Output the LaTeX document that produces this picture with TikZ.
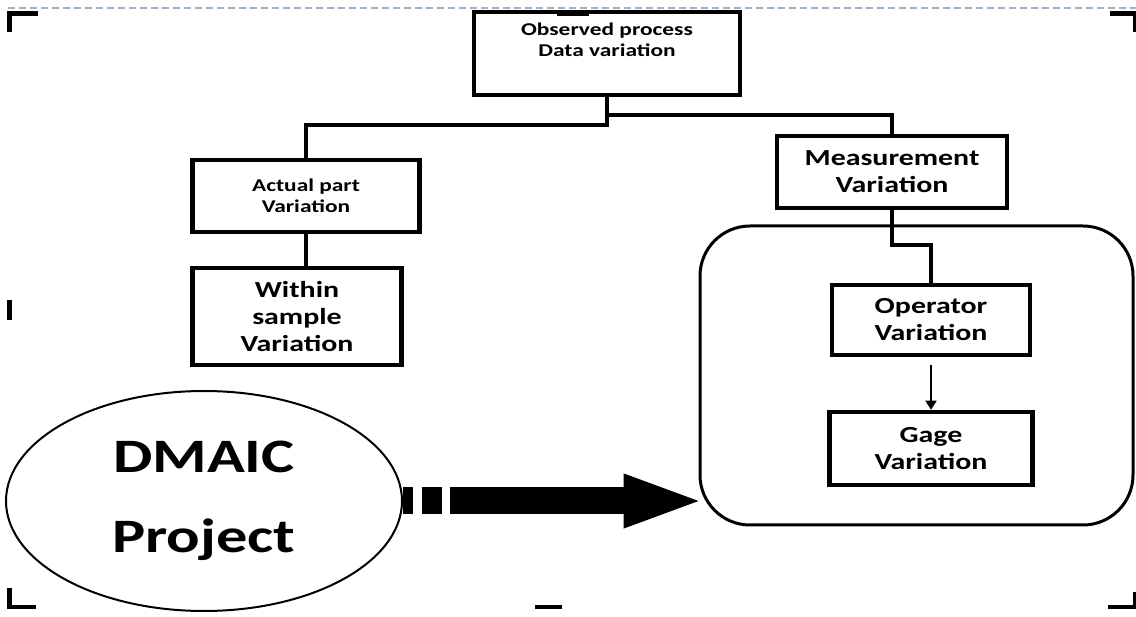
\documentclass[tikz,border=0pt]{standalone}
\usepackage{fontspec}
\setmainfont{Carlito}[FakeStretch=1.3]
\usetikzlibrary{arrows.meta,shapes.geometric}
\definecolor{rulegray}{RGB}{160,178,200}

\begin{document}
\begin{tikzpicture}[x=1pt,y=-1pt,
  box/.style={draw,line width=4.5pt,align=center,inner sep=0pt},
  smalltxt/.style={font=\bfseries\fontsize{18}{21}\selectfont},
  bigtxt/.style={font=\bfseries\fontsize{23}{27}\selectfont},
  link/.style={line width=4pt},
  cropmark/.style={line width=4.5pt},
  bigarrow/.style={line width=27pt,dash pattern=on 10pt off 9pt on 20pt off 8pt on 1000pt off 0pt,
    -{Triangle[length=75pt,width=55pt,line width=1pt]}}]

\useasboundingbox (0,0) rectangle (1136,617);

\draw[rulegray,line width=1.5pt,dash pattern=on 7pt off 4pt] (8,8)--(1136,8);

\draw[cropmark] (9.5,32)--(9.5,13.5)--(38,13.5);
\draw[cropmark] (557,13.5)--(589,13.5);
\draw[cropmark] (1110,13.5)--(1135,13.5)--(1135,32);
\draw[cropmark] (9.5,300)--(9.5,320);
\draw[cropmark] (9.5,588)--(9.5,607)--(36,607);
\draw[cropmark] (535,607)--(562,607);
\draw[cropmark] (1108,607)--(1135,607)--(1135,592);

\node[box,smalltxt,minimum width=266pt,minimum height=83pt] (obs) at (607,53.5) {Observed process\\Data variation\\\strut};
\node[box,smalltxt,minimum width=227pt,minimum height=72pt] (act) at (306,196) {Actual part\\Variation};
\node[box,bigtxt,minimum width=209pt,minimum height=97pt] (within) at (297,316.5) {Within\\sample\\Variation};
\node[box,bigtxt,minimum width=230pt,minimum height=72pt] (meas) at (892,172) {Measurement\\Variation};

\node[draw,line width=3pt,rounded corners=50pt,minimum width=433pt,minimum height=299pt] (grp) at (916.5,375.5) {};
\node[box,bigtxt,minimum width=198pt,minimum height=70pt] (oper) at (931,320) {Operator\\Variation};
\node[box,bigtxt,minimum width=203pt,minimum height=73pt] (gage) at (931,448.5) {Gage\\Variation};

\node[draw,ellipse,line width=2pt,inner sep=0pt,minimum width=396pt,minimum height=220pt,align=center,
  font=\bfseries\fontsize{48}{58}\selectfont] (dmaic) at (204,501) {DMAIC\\[22pt]Project};

\coordinate (jl) at (607,125);
\coordinate (jr) at (607,115);
\coordinate (jm) at (892,245);

\draw[link] (obs.south)--(jl)-|(act.north);
\draw[link] (jr)-|(meas.north);
\draw[link] (act.south)--(act.south |- within.north);
\draw[link] (meas.south)--(jm)-|(oper.north);
\draw[line width=1.5pt,shorten <=8pt,-{Triangle[length=9pt,width=11pt]}] (oper.south)--(gage.north);

\draw[bigarrow] (dmaic.east)--(dmaic.east -| grp.west);

\end{tikzpicture}
\end{document}
